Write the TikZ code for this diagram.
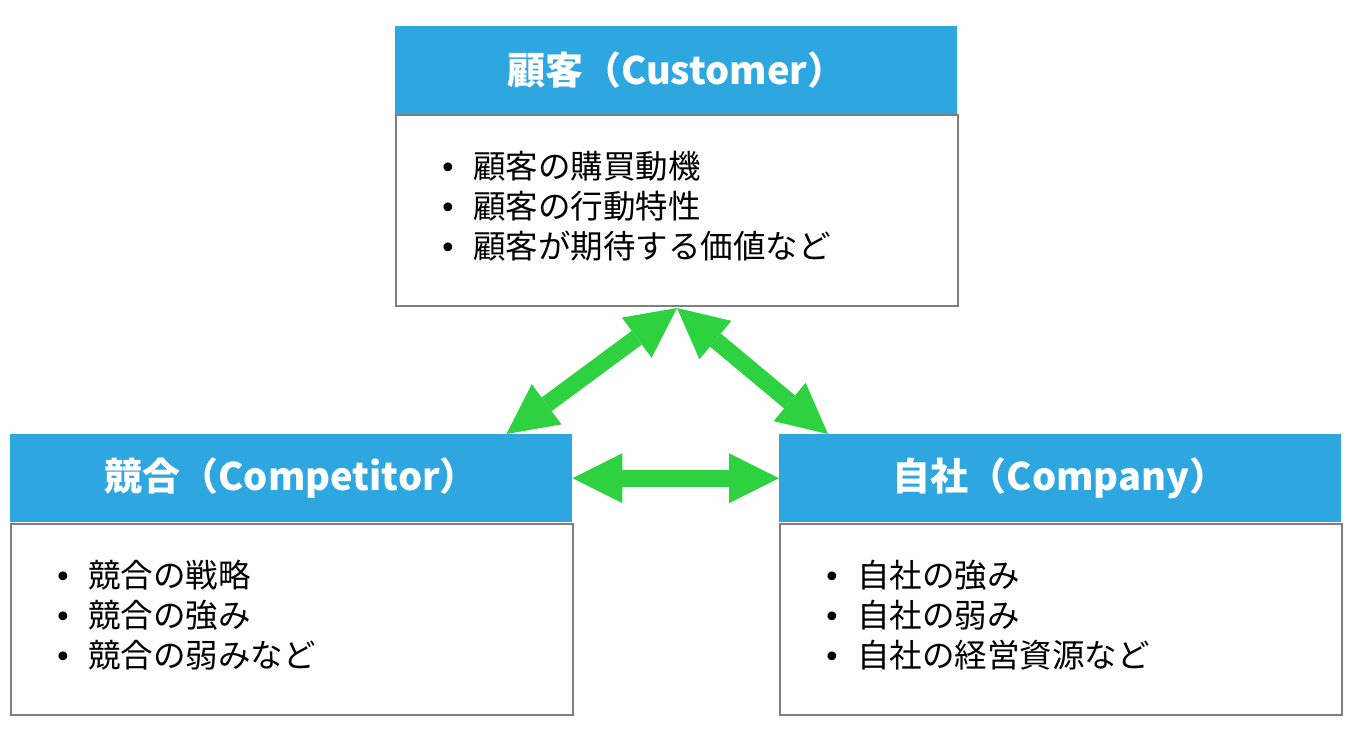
\documentclass[tikz,border=0pt]{standalone}
\usepackage{fontspec}
\setmainfont{Noto Sans CJK JP}
\newfontfamily\bulletfont{DejaVu Sans}
\usetikzlibrary{arrows.meta,calc}
\definecolor{hblue}{HTML}{2EA7E1}
\definecolor{bgray}{HTML}{7F7F7F}
\definecolor{ggreen}{HTML}{2ED240}
\newcommand{\itm}[1]{\makebox[31pt][l]{\hspace{-3pt}\bulletfont\fontsize{30}{40}\selectfont •}#1}
\newcommand{\lastfix}{\rule[-12pt]{0pt}{12pt}}
\tikzset{
  headbox/.style={anchor=north west, fill=hblue, minimum width=562pt, minimum height=88pt, inner sep=0pt, text=white, font=\fontsize{38}{40}\selectfont\bfseries},
  bodybox/.style={anchor=north west, draw=bgray, line width=2pt, fill=white, minimum width=562pt, minimum height=191pt, text width=470pt, inner xsep=46pt, inner ysep=0pt, align=left, font=\fontsize{32.5}{40}\selectfont},
  gtip/.tip={Triangle[length=50pt,width=50pt,line width=0pt]},
  garrow/.style={draw=ggreen, line width=17pt, gtip-gtip}
}
\begin{document}
\begin{tikzpicture}[x=1pt,y=-1pt]
\useasboundingbox (0,0) rectangle (1360,738);
% Customer
\node[bodybox] (cusb) at (395,114) {\itm{顧客の購買動機}\\\itm{顧客の行動特性}\\\itm{顧客が期待する価値など}\lastfix};
\node[headbox] (cush) at (395,26) {顧客（Customer）};
% Competitor
\node[bodybox] (comb) at (10,523) {\itm{競合の戦略}\\\itm{競合の強み}\\\itm{競合の弱みなど}\lastfix};
\node[headbox] (comh) at (10,434) {競合（Competitor）};
% Company
\node[bodybox] (cob) at (779,523) {\itm{自社の強み}\\\itm{自社の弱み}\\\itm{自社の経営資源など}\lastfix};
\node[headbox] (coh) at (779,434) {自社（Company）};
% arrows
\coordinate (ctop) at ($(cusb.south)+(0,1)$);
\coordinate (lend) at ($(comh.north east)+(-66,0)$);
\coordinate (rend) at ($(coh.north west)+(49,0)$);
\draw[garrow] (ctop) -- (lend);
\draw[garrow] (ctop) -- (rend);
\draw[garrow] (comh.east) -- (coh.west);
\end{tikzpicture}
\end{document}
